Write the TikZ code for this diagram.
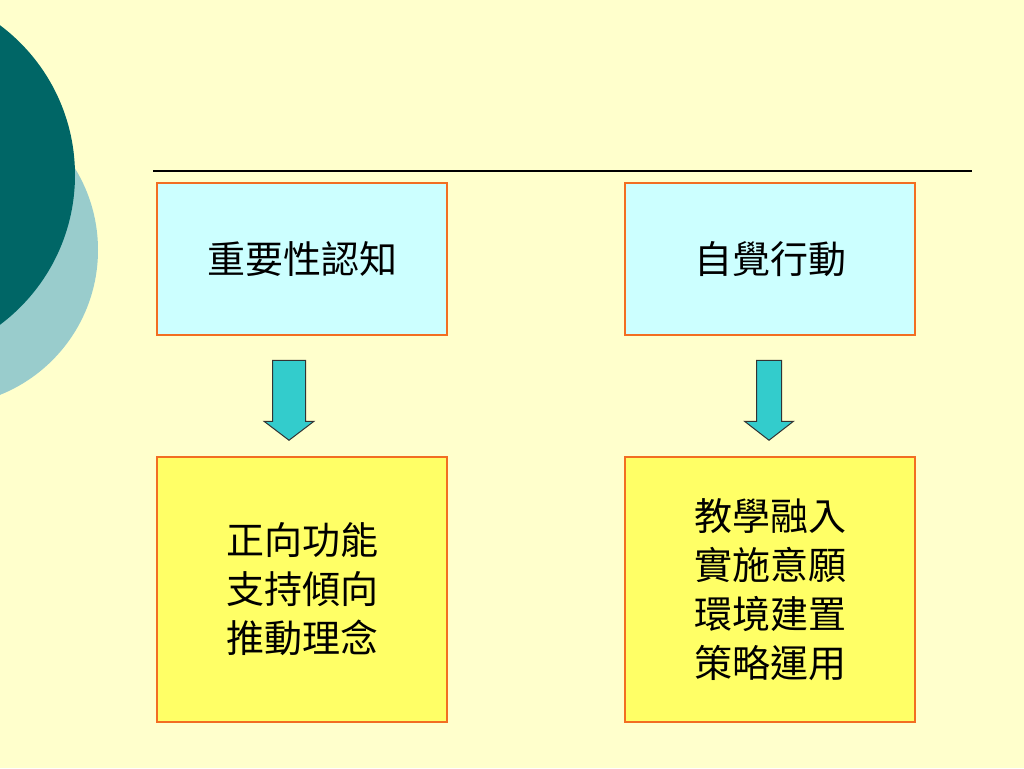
\documentclass[tikz,border=0pt]{standalone}
\usepackage{fontspec}
\newfontfamily\cjk{Noto Sans CJK TC}
\usetikzlibrary{positioning}

\definecolor{paper}{HTML}{FFFFCC}
\definecolor{darkteal}{HTML}{006666}
\definecolor{paleteal}{HTML}{99CCCC}
\definecolor{edgeorange}{HTML}{F26E22}
\definecolor{skyfill}{HTML}{CCFFFF}
\definecolor{lemonfill}{HTML}{FFFF66}
\definecolor{arrowfill}{HTML}{33CCCC}

\begin{document}
\begin{tikzpicture}[
  x=1pt, y=-1pt,
  node distance=119.5pt and 175.5pt,
  topbox/.style={draw=edgeorange, line width=2.5pt, fill=skyfill, rectangle,
    minimum width=290pt, minimum height=152pt, inner sep=0pt},
  lowbox/.style={draw=edgeorange, line width=2.5pt, fill=lemonfill, rectangle,
    minimum width=290pt, minimum height=265pt, inner sep=0pt,
    align=center},
  blockarrow/.style={draw=black!80, line width=1pt, fill=arrowfill, line join=miter},
  every node/.style={font=\cjk\fontsize{38pt}{49pt}\selectfont}
]

% Background
\useasboundingbox (0,0) rectangle (1024,768);
\fill[paper] (0,0) rectangle (1024,768);
\begin{scope}
  \clip (0,0) rectangle (1024,768);
  \fill[paleteal] (-58,250) circle (156);
  \fill[darkteal] (-112,175) circle (187);
\end{scope}
\draw[line width=1.2pt] (153,171) -- (972,171);

% Nodes
\node[topbox] (importance) at (302,259) {重要性認知};
\node[topbox, right=of importance] (action) {自覺行動};
\node[lowbox, below=of importance] (attitude) {正向功能\\支持傾向\\推動理念};
\node[lowbox, below=of action] (practice) {教學融入\\實施意願\\環境建置\\策略運用};

% Arrows
\coordinate[below=24pt of importance.south, xshift=-13pt] (arrowL);
\coordinate[below=24pt of action.south, xshift=-1pt] (arrowR);

\draw[blockarrow] (arrowL) ++(-16.5,0) -- ++(33,0) -- ++(0,61) -- ++(8.5,0)
  -- ++(-25,19) -- ++(-25,-19) -- ++(8.5,0) -- cycle;
\draw[blockarrow] (arrowR) ++(-12.5,0) -- ++(25,0) -- ++(0,61) -- ++(12,0)
  -- ++(-24.5,19) -- ++(-24.5,-19) -- ++(12,0) -- cycle;

\end{tikzpicture}
\end{document}
